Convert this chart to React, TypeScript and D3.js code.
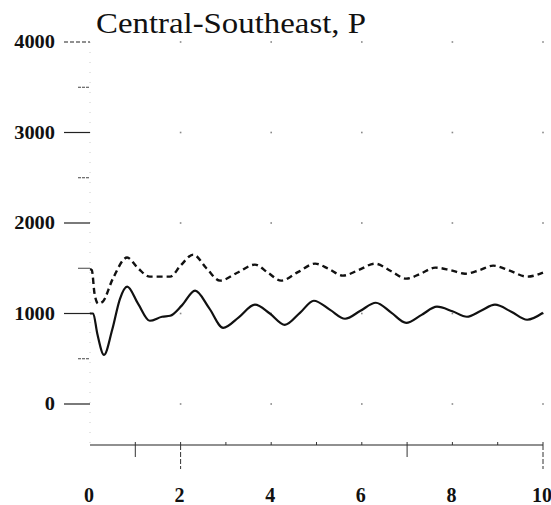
import React from "react";
import * as d3 from "d3";

const title = "Central-Southeast, P";
const yTicks = [0, 1000, 2000, 3000, 4000];
const yMinorTicks = [500, 1500, 2500, 3500];
const xTickLabels = [0, 2, 4, 6, 8, 10];
const xMinorTicks = [1, 2, 3, 4, 5, 6, 7, 8, 9, 10];
const xLongTicks = [1, 2, 7, 10];

const solidT = [0, 0.07, 0.16, 0.31, 0.49, 0.66, 0.82, 1.06, 1.32, 1.59, 1.77, 2.03, 2.32, 2.63, 2.94, 3.29, 3.64, 3.97, 4.3, 4.64, 4.94, 5.3, 5.63, 5.97, 6.31, 6.65, 6.98, 7.32, 7.66, 8.0, 8.32, 8.63, 8.94, 9.3, 9.65, 10];
const solidP = [1000, 1000, 780, 543, 820, 1160, 1296, 1110, 920, 964, 975, 1090, 1252, 1060, 842, 960, 1097, 1000, 875, 1010, 1141, 1040, 942, 1030, 1119, 1010, 897, 985, 1075, 1025, 964, 1030, 1097, 1020, 931, 1008];

const dashT = [0, 0.04, 0.1, 0.18, 0.28, 0.5, 0.82, 1.06, 1.32, 1.77, 2.0, 2.28, 2.57, 2.87, 3.25, 3.64, 3.93, 4.22, 4.6, 4.97, 5.28, 5.58, 5.93, 6.29, 6.64, 6.98, 7.3, 7.62, 7.95, 8.28, 8.6, 8.9, 9.28, 9.65, 10];
const dashP = [1490, 1480, 1220, 1110, 1130, 1380, 1618, 1500, 1407, 1407, 1530, 1651, 1500, 1363, 1450, 1540, 1450, 1363, 1460, 1551, 1490, 1418, 1480, 1551, 1470, 1385, 1440, 1507, 1480, 1440, 1480, 1529, 1470, 1407, 1452];

export default function App() {
  const W = 551, H = 505;
  const x = d3.scaleLinear().domain([0, 10]).range([90, 543]);
  const y = d3.scaleLinear().domain([0, 4000]).range([404, 42]);
  const axisY = 445;
  const line = d3
    .line<[number, number]>()
    .x((d) => x(d[0]))
    .y((d) => y(d[1]))
    .curve(d3.curveMonotoneX);
  const solid = line(solidT.map((t, i) => [t, solidP[i]] as [number, number])) || "";
  const dashed = line(dashT.map((t, i) => [t, dashP[i]] as [number, number])) || "";
  const font = "'Liberation Serif', 'Times New Roman', serif";
  const gridX = [0, 2, 4, 6, 8, 10];
  return (
    <svg
      width={W}
      height={H}
      style={{ position: "absolute", left: 0, top: 0, background: "#fff" }}
      fontFamily={font}
    >
      <rect x={0} y={0} width={W} height={H} fill="#fff" />
      {/* grid dots */}
      {yTicks.map((v) =>
        gridX.slice(1).map((t) => (
          <rect key={`g${v}-${t}`} x={x(t) - 0.8} y={y(v) - 0.8} width={1.6} height={1.6} fill="#888" />
        ))
      )}
      {/* y axis dotted line */}
      <line x1={x(0)} x2={x(0)} y1={y(4000)} y2={axisY} stroke="#ccc" strokeWidth={1} strokeDasharray="1 9" />
      {/* y ticks */}
      {yTicks.map((v) => (
        <g key={`yt${v}`}>
          <line x1={64} x2={x(0)} y1={y(v)} y2={y(v)} stroke="#222" strokeWidth={1.2} strokeDasharray={v === 4000 ? "4 2" : undefined} />
          <text
            x={55}
            y={y(v) + 6}
            textAnchor="end"
            fontSize={18}
            fontWeight="bold"
            fill="#111"
            textLength={String(v).length * 10.2}
            lengthAdjust="spacingAndGlyphs"
          >
            {v}
          </text>
        </g>
      ))}
      {yMinorTicks.map((v) => (
        <line key={`ym${v}`} x1={78} x2={x(0)} y1={y(v)} y2={y(v)} stroke="#444" strokeWidth={1} strokeDasharray={v === 1500 ? undefined : "3 1"} />
      ))}
      {/* x axis */}
      <line x1={x(0)} x2={x(10)} y1={axisY} y2={axisY} stroke="#222" strokeWidth={1.2} />
      {xMinorTicks.map((t) => (
        <line key={`xm${t}`} x1={x(t)} x2={x(t)} y1={axisY} y2={axisY - 3} stroke="#333" strokeWidth={1} />
      ))}
      {xLongTicks.map((t) => (
        <line
          key={`xl${t}`}
          x1={x(t)}
          x2={x(t)}
          y1={axisY}
          y2={axisY + (t === 2 || t === 10 ? 24 : 12)}
          stroke="#333"
          strokeWidth={1}
          strokeDasharray={t === 2 || t === 10 ? "5 2" : undefined}
        />
      ))}
      {xTickLabels.map((t) => (
        <text key={`xl-${t}`} x={x(t) - 1} y={502} textAnchor="middle" fontSize={20} fontWeight="bold" fill="#111">
          {t}
        </text>
      ))}
      {/* series */}
      <path d={dashed} fill="none" stroke="#111" strokeWidth={2.4} strokeDasharray="6 4" />
      <path d={solid} fill="none" stroke="#111" strokeWidth={2.2} />
      {/* title */}
      <text x={96} y={33} fontSize={30} fill="#111" textLength={270} lengthAdjust="spacingAndGlyphs">
        {title}
      </text>
    </svg>
  );
}
